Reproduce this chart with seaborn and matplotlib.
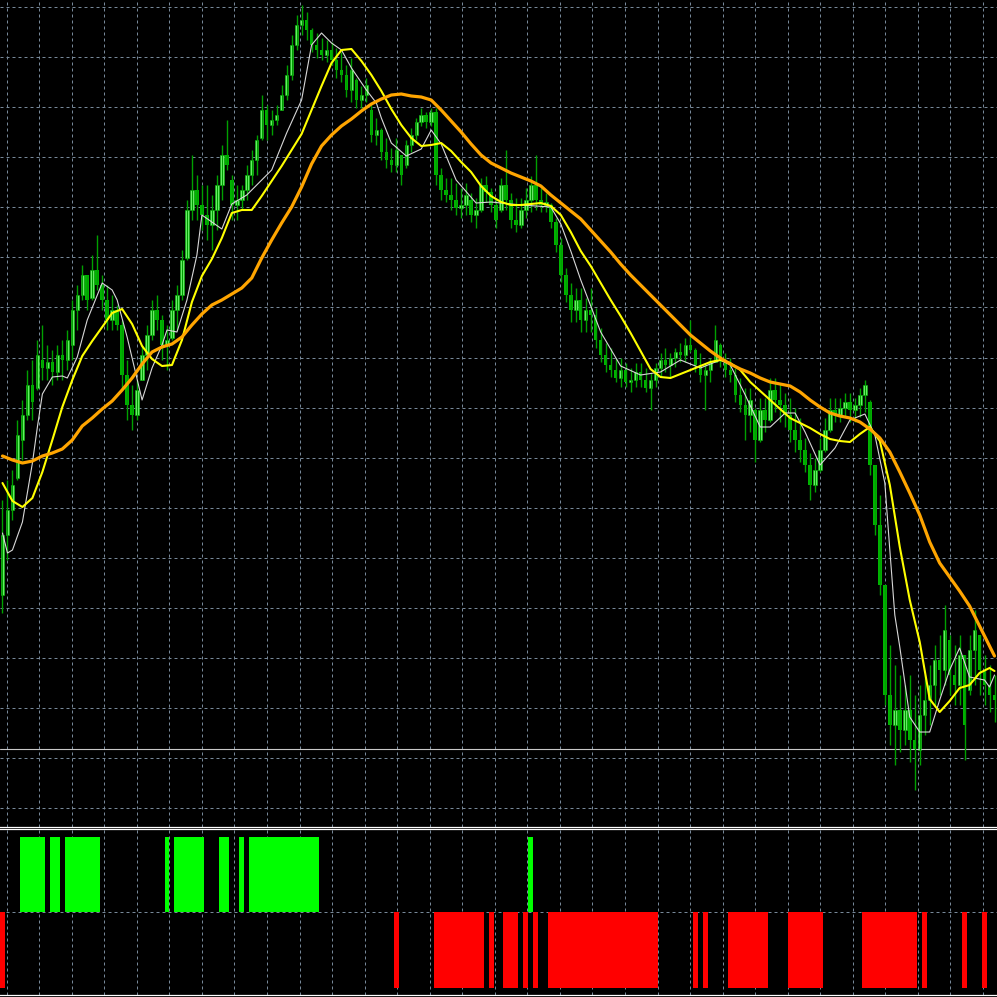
import numpy as np
import pandas as pd
import seaborn as sns
import matplotlib
matplotlib.use("Agg")
import matplotlib.pyplot as plt

# candles (price in points, 50 points per grid step)
opens = [405, 465, 490, 522, 560, 585, 615, 612, 640, 632, 638, 628, 645, 640, 655, 690, 705, 725, 702, 730,
         715, 700, 680, 690, 675, 625, 595, 585, 620, 645, 665, 690, 680, 655, 662, 690, 705, 742, 790, 810,
         795, 785, 775, 790, 815, 845, 820, 795, 800, 810, 825, 840, 862, 890, 875, 880, 890, 905, 925, 955,
         975, 980, 970, 955, 950, 945, 950, 940, 930, 925, 910, 920, 900, 905, 890, 865, 870, 848, 840, 835,
         845, 835, 855, 865, 878, 885, 878, 888, 825, 810, 805, 800, 792, 795, 800, 785, 790, 815, 808, 795,
         790, 815, 800, 780, 775, 790, 800, 815, 800, 795, 795, 778, 755, 725, 705, 690, 700, 680, 690, 685,
         660, 645, 635, 630, 622, 630, 618, 620, 628, 620, 612, 620, 632, 640, 635, 642, 648, 645, 655, 650,
         635, 625, 630, 638, 655, 640, 630, 625, 605, 595, 585, 590, 560, 590, 580, 610, 600, 595, 585, 570,
         560, 550, 535, 515, 530, 550, 570, 590, 585, 592, 598, 590, 595, 605, 598, 535, 475, 415, 305, 275,
         290, 270, 290, 260, 250, 285, 300, 315, 340, 330, 360, 325, 315, 345, 310, 350, 365, 330, 315, 305]
highs = [500, 520, 530, 580, 600, 630, 640, 660, 675, 655, 650, 655, 660, 670, 700, 715, 735, 725, 745, 765,
         725, 715, 705, 695, 680, 640, 615, 620, 655, 675, 700, 705, 685, 675, 700, 715, 750, 800, 845, 825,
         815, 815, 805, 825, 855, 880, 825, 815, 815, 835, 850, 865, 905, 895, 890, 895, 915, 935, 965, 985,
         995, 988, 972, 967, 962, 960, 958, 952, 948, 935, 942, 922, 914, 922, 895, 882, 872, 862, 852, 862,
         845, 860, 872, 882, 892, 888, 892, 892, 832, 822, 822, 817, 812, 817, 807, 802, 822, 824, 812, 802,
         822, 850, 807, 802, 802, 812, 824, 845, 812, 807, 797, 782, 762, 732, 717, 712, 712, 702, 712, 692,
         672, 657, 652, 642, 642, 637, 632, 637, 637, 632, 627, 637, 647, 652, 647, 652, 657, 662, 680, 652,
         647, 637, 642, 675, 657, 647, 642, 632, 622, 612, 612, 592, 602, 602, 622, 622, 617, 607, 602, 592,
         582, 562, 547, 542, 562, 582, 602, 602, 602, 607, 607, 602, 612, 620, 600, 535, 505, 415, 355, 335,
         325, 315, 325, 305, 315, 325, 335, 355, 365, 395, 365, 355, 365, 345, 365, 390, 365, 345, 335, 325]
lows = [387, 440, 480, 520, 540, 580, 580, 610, 620, 620, 615, 620, 620, 630, 640, 670, 700, 690, 700, 710,
        690, 670, 670, 670, 610, 580, 570, 580, 620, 630, 660, 670, 640, 630, 660, 670, 700, 740, 780, 780,
        770, 760, 750, 770, 800, 830, 780, 780, 790, 800, 815, 825, 860, 860, 865, 875, 890, 900, 920, 950,
        965, 960, 948, 942, 940, 938, 935, 922, 918, 903, 898, 892, 892, 898, 858, 855, 840, 832, 828, 828,
        815, 832, 848, 860, 874, 872, 874, 815, 800, 798, 790, 785, 782, 785, 778, 772, 788, 798, 788, 772,
        788, 790, 772, 768, 772, 782, 788, 790, 788, 788, 772, 748, 718, 698, 678, 678, 668, 668, 668, 652,
        638, 628, 623, 618, 613, 613, 608, 613, 613, 608, 590, 613, 623, 628, 623, 633, 638, 638, 648, 628,
        618, 590, 618, 638, 633, 623, 618, 598, 588, 560, 568, 538, 558, 568, 578, 588, 578, 573, 558, 548,
        538, 528, 500, 508, 528, 548, 568, 578, 578, 583, 578, 578, 583, 588, 525, 465, 405, 295, 255, 235,
        248, 255, 238, 210, 235, 265, 275, 295, 305, 315, 305, 295, 295, 240, 305, 315, 305, 295, 288, 278]
closes = [465, 490, 515, 565, 585, 615, 598, 645, 632, 638, 628, 645, 640, 660, 690, 705, 725, 700, 730, 715,
          700, 680, 690, 675, 625, 595, 585, 610, 645, 665, 690, 680, 655, 660, 690, 705, 740, 790, 810, 795,
          785, 775, 790, 815, 845, 835, 795, 800, 810, 825, 840, 860, 890, 875, 880, 885, 905, 925, 955, 975,
          980, 970, 955, 950, 945, 950, 940, 930, 925, 910, 930, 900, 905, 915, 865, 870, 848, 840, 835, 850,
          825, 855, 865, 878, 885, 878, 888, 825, 810, 805, 800, 792, 795, 805, 785, 790, 815, 808, 795, 780,
          815, 800, 780, 775, 790, 800, 815, 800, 795, 798, 778, 755, 725, 705, 690, 700, 680, 690, 685, 660,
          645, 635, 630, 622, 630, 618, 620, 628, 620, 612, 620, 632, 640, 635, 642, 648, 645, 655, 650, 635,
          625, 630, 638, 660, 640, 630, 625, 605, 595, 585, 600, 560, 590, 580, 610, 600, 595, 585, 570, 560,
          550, 535, 515, 530, 550, 570, 590, 585, 592, 598, 590, 595, 605, 615, 535, 475, 415, 305, 275, 290,
          270, 290, 260, 250, 285, 300, 315, 340, 330, 370, 325, 315, 345, 275, 350, 370, 330, 315, 305, 300]

# fast moving average at selected bars
fast_bar = [0, 1, 2, 4, 6, 7, 8, 10, 12, 13, 15, 17, 20, 22, 23, 25, 28, 30, 32, 33, 35, 37, 39, 40, 44,
            46, 49, 54, 57, 60, 62, 64, 66, 68, 70, 73, 75, 76, 78, 81, 84, 86, 88, 91, 95, 98, 104, 110,
            112, 114, 116, 120, 124, 128, 132, 136, 140, 144, 146, 149, 152, 154, 157, 159, 161, 164, 167,
            170, 173, 175, 177, 178, 179, 180, 182, 184, 186, 188, 190, 192, 194, 197, 198, 199]
fast_val = [467, 447, 450, 478, 537, 573, 606, 623, 624, 622, 643, 680, 717, 710, 700, 663, 600, 632, 655,
            670, 668, 700, 745, 785, 771, 796, 805, 830, 867, 900, 955, 967, 957, 950, 932, 910, 897, 882,
            857, 844, 851, 870, 856, 820, 797, 798, 795, 793, 776, 749, 720, 668, 634, 625, 628, 640, 632,
            640, 635, 605, 573, 573, 587, 587, 568, 535, 552, 580, 586, 565, 517, 450, 385, 353, 283, 268,
            268, 300, 330, 352, 323, 320, 313, 325]

# medium and slow moving averages, every second bar plus the last one
mid_val = [517, 499, 493, 502, 528, 560, 593, 620, 644, 659,
           673, 687, 691, 676, 654, 641, 634, 635, 660, 698,
           724, 741, 762, 787, 790, 790, 804, 819, 834, 850,
           866, 890, 914, 937, 950, 951, 939, 925, 909, 891,
           875, 862, 854, 855, 857, 849, 838, 828, 814, 804,
           798, 795, 795, 796, 797, 794, 785, 768, 749, 734,
           717, 700, 684, 667, 649, 631, 623, 622, 626, 630,
           634, 638, 640, 637, 630, 618, 609, 600, 591, 582,
           577, 572, 566, 561, 559, 558, 566, 573, 559, 515,
           453, 400, 358, 301, 288, 299, 312, 315, 327, 332,
           329]
slow_val = [544, 540, 537, 539, 544, 547, 551, 560, 574, 582,
            591, 599, 610, 622, 636, 648, 653, 656, 663, 675,
            686, 695, 700, 706, 712, 722, 742, 760, 777, 793,
            813, 836, 854, 865, 874, 881, 889, 896, 901, 905,
            906, 904, 903, 900, 890, 879, 868, 856, 845, 837,
            832, 827, 823, 819, 814, 805, 797, 789, 781, 770,
            759, 748, 736, 725, 715, 705, 695, 685, 675, 665,
            657, 649, 642, 636, 631, 627, 622, 618, 616, 614,
            608, 600, 593, 587, 584, 582, 578, 571, 562, 548,
            528, 507, 485, 458, 437, 423, 409, 394, 374, 354,
            344]

level = 251

# signal histogram: runs of bars (first, last)
buy_runs = [(4, 8), (10, 11), (13, 19), (33, 33), (35, 40), (44, 45), (48, 48), (50, 63), (106, 106)]
sell_runs = [(0, 0), (79, 79), (87, 96), (98, 98), (101, 103), (105, 105), (107, 107), (110, 131),
             (139, 139), (141, 141), (146, 153), (158, 164), (173, 183), (185, 185), (193, 193), (197, 197)]

o = np.array(opens)
h = np.array(highs)
l = np.array(lows)
c = np.array(closes)
bars = np.arange(len(c))
ma = pd.DataFrame({"bar": np.r_[np.arange(0, 200, 2), 199], "mid": mid_val, "slow": slow_val})

signal = np.zeros(len(c))
for a, b in buy_runs:
    signal[a:b + 1] = 1
for a, b in sell_runs:
    signal[a:b + 1] = -1

sns.set_theme(style="dark", rc={"axes.facecolor": "black", "figure.facecolor": "black"})

fig = plt.figure(figsize=(9.97, 9.97), dpi=100)
ax = fig.add_axes([0, 0.1708, 1, 0.8292])
sub = fig.add_axes([0, 0.0017, 1, 0.1671])

grid_x = 0.844 + 6.528 * np.arange(31)
grid_y = 992.7 - 50.03 * np.arange(17)
for a in (ax, sub):
    a.set_facecolor("black")
    a.set_xlim(-0.5, 199.5)
    a.set_xticks(grid_x)
    a.tick_params(length=0, labelbottom=False, labelleft=False)
    a.grid(True, color="#778899", ls=(0, (3, 3)), lw=0.72)
    a.set_axisbelow(True)
    for s in a.spines.values():
        s.set_visible(False)
    a.spines["bottom"].set_visible(True)
    a.spines["bottom"].set_color("white")
    a.spines["bottom"].set_linewidth(0.9)
sub.spines["top"].set_visible(True)
sub.spines["top"].set_color("white")
sub.spines["top"].set_linewidth(0.9)

# main chart
ax.set_ylim(173.3, 1000)
ax.set_yticks(grid_y)
ax.axhline(level, color="#c8c8c8", lw=0.8)
up = c >= o
ax.vlines(bars, l, h, color="#00a000", lw=1.0)
ax.bar(bars[up], (c - o)[up], bottom=o[up], width=0.7, color="#80ff80",
       edgecolor="#00c000", linewidth=0.4)
ax.bar(bars[~up], (o - c)[~up], bottom=c[~up], width=0.7, color="#00b400", linewidth=0)

sns.lineplot(x=fast_bar, y=fast_val, ax=ax, color="#d8d8d8", lw=0.8, estimator=None)
sns.lineplot(data=ma, x="bar", y="mid", ax=ax, color="#ffff00", lw=1.5, estimator=None)
sns.lineplot(data=ma, x="bar", y="slow", ax=ax, color="#ffa500", lw=2.3, estimator=None)
ax.set_xlabel("")
ax.set_ylabel("")

# signal subwindow
sub.set_ylim(-1.102, 1.110)
sub.set_yticks([0])
sub.bar(bars, np.where(signal > 0, signal, 0), width=1.0, color="#00ff00", linewidth=0)
sub.bar(bars, np.where(signal < 0, signal, 0), width=1.0, color="#ff0000", linewidth=0)

fig.savefig("out.png", dpi=100, facecolor="black")
